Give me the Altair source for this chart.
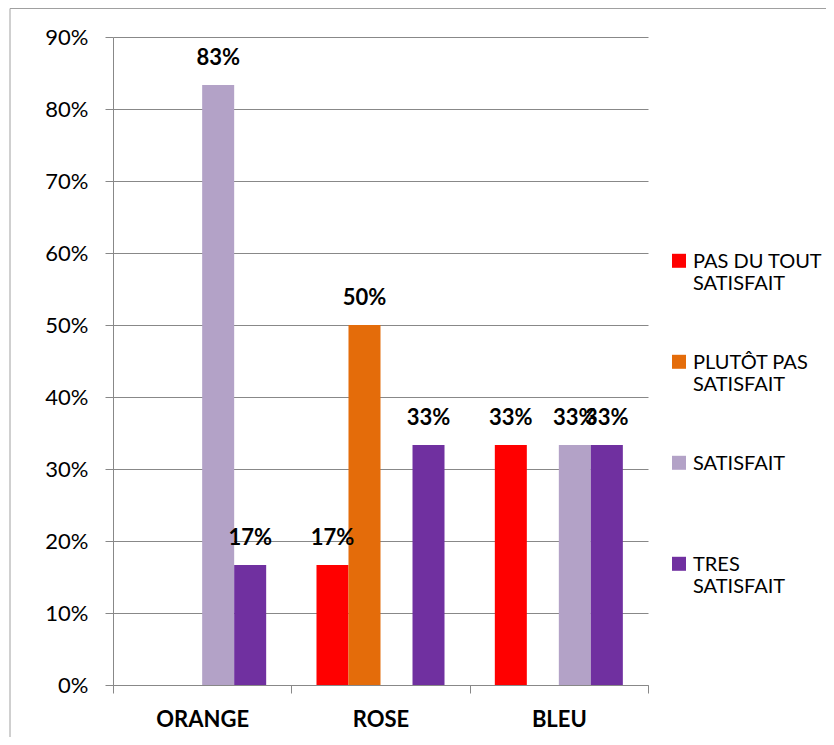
import altair as alt
import pandas as pd

categories = ["ORANGE", "ROSE", "BLEU"]
series = ["PAS DU TOUT SATISFAIT", "PLUTÔT PAS SATISFAIT", "SATISFAIT", "TRES SATISFAIT"]
colors = ["#FF0000", "#E46C0A", "#B3A2C7", "#7030A0"]
pas_du_tout = [0.0, 0.1667, 0.3333]
plutot_pas = [0.0, 0.5, 0.0]
satisfait = [0.8333, 0.0, 0.3333]
tres = [0.1667, 0.3333, 0.3333]
y_ticks = [0.0, 0.1, 0.2, 0.3, 0.4, 0.5, 0.6, 0.7, 0.8, 0.9]

rows = []
for s, vals in zip(series, [pas_du_tout, plutot_pas, satisfait, tres]):
    for c, v in zip(categories, vals):
        rows.append({"categorie": c, "serie": s, "valeur": v})
df = pd.DataFrame(rows)

GRAY = "#888888"
FONT = "Lato"

x = alt.X(
    "categorie:N", sort=categories,
    scale=alt.Scale(paddingInner=0, paddingOuter=0),
    axis=alt.Axis(title=None, labelAngle=0, labelFont=FONT, labelFontWeight="bold",
                  labelFontSize=22, labelColor="#000000", labelPadding=16,
                  tickBand="extent", tickSize=8, tickColor=GRAY, domainColor=GRAY, grid=False),
)
y = alt.Y(
    "valeur:Q", scale=alt.Scale(domain=[0, 0.9]),
    axis=alt.Axis(values=y_ticks, format=".0%", title=None, grid=True, gridColor=GRAY,
                  tickColor=GRAY, tickSize=8, domainColor=GRAY, labelFontSize=22,
                  labelFont=FONT, labelPadding=17, labelColor="#000000"),
)
xoff = alt.XOffset("serie:N", sort=series,
                   scale=alt.Scale(paddingInner=0, paddingOuter=0.786))

label_expr = ("datum.label == 'SATISFAIT' ? ['SATISFAIT', ' '] : "
              "split(replace(datum.label, ' SATISFAIT', '|SATISFAIT'), '|')")

color = alt.Color(
    "serie:N", sort=series,
    scale=alt.Scale(domain=series, range=colors),
    legend=alt.Legend(title=None, orient="none", legendX=556, legendY=221,
                      symbolType="M-1,-2.03L1,-2.03L1,-0.03L-1,-0.03Z",
                      symbolSize=196, symbolStrokeWidth=0,
                      labelFont=FONT, labelFontSize=20,
                      labelColor="#000000", labelExpr=label_expr, rowPadding=59,
                      padding=0, labelLimit=300, labelBaseline="alphabetic", labelOffset=4),
)

bars = alt.Chart(df).mark_bar().encode(x=x, y=y, xOffset=xoff, color=color)

labels = alt.Chart(df).transform_filter("datum.valeur > 0").mark_text(
    dy=-27, font=FONT, fontWeight="bold", fontSize=22, color="#000000"
).encode(x=x, y=y, xOffset=xoff, text=alt.Text("valeur:Q", format=".0%"))

border = alt.Chart(pd.DataFrame({"a": [0]})).mark_rect(
    fillOpacity=0, stroke="#a0a0a0", strokeWidth=1
).encode(x=alt.value(-103), x2=alt.value(900), y=alt.value(-28.5), y2=alt.value(900))

chart = alt.layer(border, bars, labels).properties(
    width=535, height=648,
    autosize=alt.AutoSizeParams(type="none"),
    padding={"left": 105, "top": 29, "right": 178, "bottom": 52},
    background="white",
).configure_view(stroke=None)

chart.save("out.html", embed_options={"renderer": "svg", "actions": False})
